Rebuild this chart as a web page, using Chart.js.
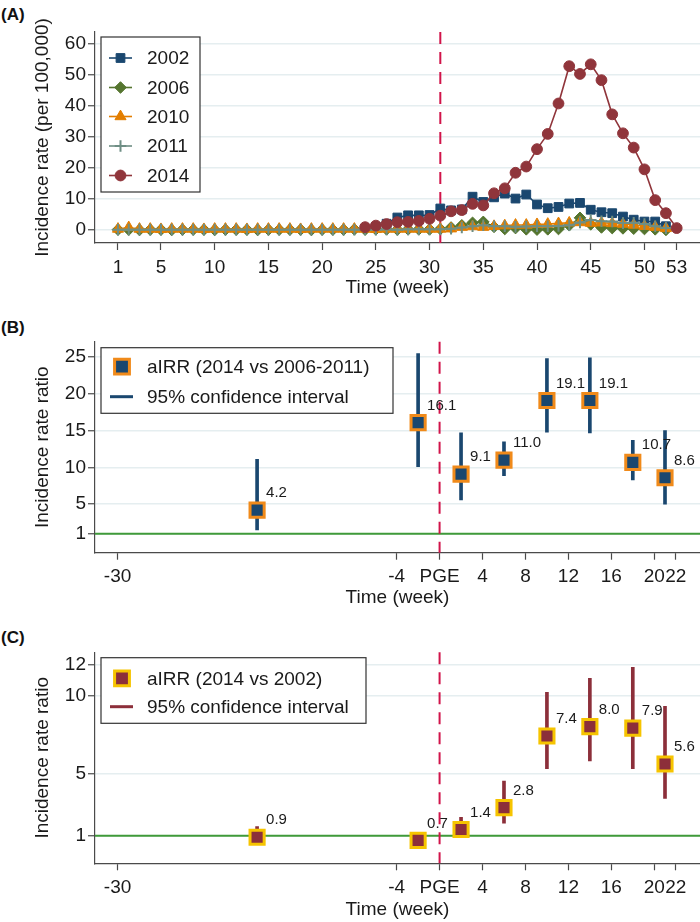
<!DOCTYPE html>
<html>
<head>
<meta charset="utf-8">
<script src="https://cdn.jsdelivr.net/npm/chart.js@4.4.1/dist/chart.umd.min.js"></script>
<style>
  html, body { margin: 0; padding: 0; background: #fff; }
  #wrap { position: relative; width: 700px; height: 922px; background: #fff; overflow: hidden; }
  canvas { position: absolute; left: 0; }
  .plab { position: absolute; left: 1px; font-family: 'Liberation Sans', Arial, sans-serif; font-weight: bold; font-size: 17px; color: #111; line-height: 1; }
</style>
</head>
<body>
<div id="wrap">
  <div class="plab" style="top:6px">(A)</div>
  <div class="plab" style="top:319px">(B)</div>
  <div class="plab" style="top:629px">(C)</div>
  <canvas id="cA" width="700" height="300" style="top:0px"></canvas>
  <canvas id="cB" width="700" height="310" style="top:300px"></canvas>
  <canvas id="cC" width="700" height="312" style="top:610px"></canvas>
</div>
<script>
// ---------------- DATA ----------------
// Panel A: weekly incidence rate (per 100,000)
const weeks = [1,2,3,4,5,6,7,8,9,10,11,12,13,14,15,16,17,18,19,20,21,22,23,24,25,26,27,28,29,30,31,32,33,34,35,36,37,38,39,40,41,42,43,44,45,46,47,48,49,50,51,52,53];
const ir2002 = [null,null,null,null,null,null,null,null,null,null,null,null,null,null,null,null,null,null,null,null,null,null,null,null,1.0,2.0,4.0,4.7,4.7,4.8,6.9,6.3,6.6,10.7,9.0,10.5,11.7,10.1,11.4,8.2,7.0,7.4,8.5,8.7,6.5,5.7,5.4,4.3,3.3,2.7,2.7,1.2,null];
const ir2006 = [0.1,0.1,0.0,0.1,0.1,0.0,0.1,0.1,0.1,0.0,0.1,0.1,0.1,0.0,0.1,0.1,0.1,0.1,0.0,0.1,0.1,0.1,0.2,0.1,0.2,0.2,0.1,0.2,0.2,0.2,0.3,0.8,1.5,2.3,2.6,1.0,0.3,0.6,0.2,0.1,0.2,0.3,1.5,3.9,1.8,0.8,0.6,0.5,0.4,0.3,0.2,0.0,null];
const ir2010 = [0.3,0.8,0.3,0.3,0.2,0.3,0.3,0.3,0.2,0.3,0.3,0.3,0.2,0.3,0.3,0.3,0.3,0.2,0.3,0.3,0.3,0.3,0.3,0.3,0.2,0.3,0.3,0.3,0.3,0.3,0.3,0.4,0.9,1.1,0.9,1.2,1.4,1.6,1.6,1.8,1.9,2.1,2.3,2.4,2.2,2.3,2.1,1.9,1.6,1.2,0.9,0.5,null];
const ir2011 = [0.1,0.1,0.1,0.1,0.1,0.1,0.1,0.1,0.1,0.1,0.1,0.1,0.1,0.1,0.1,0.1,0.1,0.1,0.1,0.1,0.1,0.1,0.1,0.2,0.1,0.2,0.1,0.2,0.2,0.2,0.2,0.4,0.8,1.2,1.5,1.2,1.2,1.0,1.1,1.2,1.2,1.3,1.5,2.4,3.2,2.8,2.7,2.2,2.3,1.9,1.2,0.6,null];
const ir2014 = [null,null,null,null,null,null,null,null,null,null,null,null,null,null,null,null,null,null,null,null,null,null,null,0.9,1.4,1.9,2.5,2.6,2.9,3.6,4.6,6.0,6.4,8.4,7.9,11.8,13.4,18.4,20.4,26.0,30.9,40.7,52.7,50.2,53.3,48.2,37.2,31.1,26.5,19.5,9.6,5.4,0.6];
const seriesYears = ['2002','2006','2010','2011','2014'];
const weekTicks = [1,5,10,15,20,25,30,35,40,45,50,53];
const rateTicks = [0,10,20,30,40,50,60];
const PGE_WEEK = 31;

// Panels B and C: time relative to PGE (weeks)
const relWeeks = [-17,-2,2,6,10,14,18,21];
const relTicks = [-30,-4,0,4,8,12,16,20,22];
const relTickLabels = ['-30','-4','PGE','4','8','12','16','20','22'];
const PGE_REL = 0;
const REF_RATIO = 1;

// Panel B: aIRR (2014 vs 2006-2011)
const irrB = [4.2,16.1,9.1,11.0,19.1,19.1,10.7,8.6];
const loB  = [1.5,10.1,5.6,8.9,14.8,14.7,8.3,5.0];
const hiB  = [11.1,25.5,14.7,13.5,24.8,24.9,13.7,15.0];
const ratioTicksB = [1,5,10,15,20,25];
const labelB = 'aIRR (2014 vs 2006-2011)';

// Panel C: aIRR (2014 vs 2002)
const irrC = [0.9,0.7,1.4,2.8,7.4,8.0,7.9,5.6];
const loC  = [0.6,0.5,0.87,1.8,5.3,5.8,5.3,3.4];
const hiC  = [1.58,1.2,2.18,4.5,10.2,11.1,11.8,9.3];
const ratioTicksC = [1,5,10,12];
const labelC = 'aIRR (2014 vs 2002)';
const ciLabel = '95% confidence interval';

// ---------------- STYLE ----------------
const FONT = "'Liberation Sans', Arial, Helvetica, sans-serif";
Chart.defaults.font.family = FONT;
Chart.defaults.color = '#1a1a1a';
const NAVY = '#1a476f', GREEN = '#55752f', ORANGE = '#e37e00', TEAL = '#6e8e84', MAROON = '#90353b';
const CRAN = '#d1144a', REFGREEN = '#3f9a3a', AX = '#4a4a4a', GRID = '#e5eef0';
const MK_ORANGE = '#f08a1a', MK_GOLD = '#f6c400', MK_MAROON = '#8c2f3a';

function pts(xs, ys) { return xs.map((x, i) => ({ x: x, y: ys[i] })); }

function drawMarker(ctx, style, r, x, y, bw) {
  if (Chart.helpers && Chart.helpers.drawPoint) {
    Chart.helpers.drawPoint(ctx, { pointStyle: style, radius: r, borderWidth: bw, rotation: 0 }, x, y);
    return;
  }
  ctx.beginPath();
  if (style === 'circle') ctx.arc(x, y, r, 0, Math.PI * 2);
  else if (style === 'rect') { const s = r * Math.SQRT1_2; ctx.rect(x - s, y - s, 2 * s, 2 * s); }
  else if (style === 'rectRot') { ctx.moveTo(x, y - r); ctx.lineTo(x + r, y); ctx.lineTo(x, y + r); ctx.lineTo(x - r, y); ctx.closePath(); }
  else if (style === 'triangle') { ctx.moveTo(x, y - r); ctx.lineTo(x + r * 0.866, y + r / 2); ctx.lineTo(x - r * 0.866, y + r / 2); ctx.closePath(); }
  else if (style === 'cross') { ctx.moveTo(x, y - r); ctx.lineTo(x, y + r); ctx.moveTo(x - r, y); ctx.lineTo(x + r, y); ctx.stroke(); return; }
  ctx.fill(); if (bw > 0) ctx.stroke();
}

// reference lines (vertical dashed PGE line, horizontal line at ratio 1)
const refLines = {
  id: 'refLines',
  beforeDatasetsDraw(chart, args, o) {
    const { ctx, chartArea: a, scales: { x, y } } = chart;
    ctx.save();
    if (o.hy !== undefined) {
      const py = y.getPixelForValue(o.hy);
      ctx.strokeStyle = REFGREEN; ctx.lineWidth = 2;
      ctx.beginPath(); ctx.moveTo(a.left, py); ctx.lineTo(a.right, py); ctx.stroke();
    }
    if (o.vx !== undefined) {
      const px = x.getPixelForValue(o.vx);
      ctx.strokeStyle = CRAN; ctx.lineWidth = 2; ctx.setLineDash([12, 8]);
      ctx.beginPath(); ctx.moveTo(px, a.top); ctx.lineTo(px, a.bottom); ctx.stroke();
    }
    ctx.restore();
  }
};

// legend box inside the plot
const boxLegend = {
  id: 'boxLegend',
  afterDraw(chart, args, o) {
    const ctx = chart.ctx;
    ctx.save();
    ctx.fillStyle = '#fff'; ctx.fillRect(o.x, o.y, o.w, o.h);
    ctx.strokeStyle = '#333'; ctx.lineWidth = 1.2; ctx.strokeRect(o.x, o.y, o.w, o.h);
    o.items.forEach(it => {
      const ds = chart.data.datasets[it.ds];
      if (it.line) {
        ctx.strokeStyle = it.line; ctx.lineWidth = it.lw;
        ctx.beginPath(); ctx.moveTo(o.lx0, it.y); ctx.lineTo(o.lx1, it.y); ctx.stroke();
      }
      if (it.style) {
        ctx.fillStyle = it.fill; ctx.strokeStyle = it.stroke; ctx.lineWidth = it.bw;
        drawMarker(ctx, it.style, it.r, o.mx, it.y, it.bw);
      }
      ctx.fillStyle = '#1a1a1a'; ctx.font = '19px ' + FONT; ctx.textAlign = 'left'; ctx.textBaseline = 'middle';
      ctx.fillText(it.text !== undefined ? it.text : ds.label, o.tx, it.y + 1);
    });
    ctx.restore();
  }
};

// value labels next to the estimate markers
const valueLabels = {
  id: 'valueLabels',
  afterDatasetsDraw(chart, args, o) {
    if (o.ds === undefined) return;
    const ctx = chart.ctx;
    const meta = chart.getDatasetMeta(o.ds);
    const data = chart.data.datasets[o.ds].data;
    ctx.save();
    ctx.fillStyle = '#1a1a1a'; ctx.font = '15px ' + FONT; ctx.textAlign = 'left'; ctx.textBaseline = 'middle';
    meta.data.forEach((el, i) => { ctx.fillText(data[i].y.toFixed(1), el.x + 9, el.y - 17); });
    ctx.restore();
  }
};

const tickFont = { size: 19, family: FONT };
function xScale(min, max, ticks, labels, h) {
  return {
    type: 'linear', min: min, max: max, offset: false,
    afterBuildTicks: s => { s.ticks = ticks.map(v => ({ value: v })); },
    afterFit: s => { s.height = h; s.paddingLeft = 0; s.paddingRight = 0; },
    grid: { offset: false, drawOnChartArea: false, drawTicks: true, tickLength: 7, tickColor: AX, tickWidth: 1.2 },
    border: { color: AX, width: 1.2 },
    ticks: { font: tickFont, color: '#1a1a1a', padding: 6, autoSkip: false, maxRotation: 0,
             callback: (v) => { const k = ticks.indexOf(v); return labels ? labels[k] : String(v); } },
    title: { display: true, text: 'Time (week)', font: tickFont, color: '#1a1a1a', padding: { top: 0, bottom: 1 } }
  };
}
function yScale(min, max, ticks, title) {
  return {
    type: 'linear', min: min, max: max,
    afterBuildTicks: s => { s.ticks = ticks.map(v => ({ value: v })); },
    afterFit: s => { s.width = 95; s.paddingTop = 0; s.paddingBottom = 0; },
    grid: { color: GRID, lineWidth: 1.5, drawTicks: true, tickLength: 7, tickColor: AX, tickWidth: 1.2 },
    border: { color: AX, width: 1.2 },
    ticks: { font: tickFont, color: '#1a1a1a', padding: 2, callback: v => String(v) },
    title: { display: true, text: title, font: tickFont, color: '#1a1a1a', padding: { top: 31.6, bottom: 0 } }
  };
}
const baseOpts = { responsive: false, animation: false, devicePixelRatio: 1, events: [] };

// ---------------- PANEL A ----------------
// z: stacking (0 = drawn on top); series drawn in legend order, last on top
const lineSets = [
  { d: ir2002, c: NAVY, s: 'rect', r: 6.2, bw: 1, z: 4 },
  { d: ir2006, c: GREEN, s: 'rectRot', r: 5.8, bw: 1, z: 3 },
  { d: ir2010, c: ORANGE, s: 'triangle', r: 6.4, bw: 1, z: 2 },
  { d: ir2011, c: TEAL, s: 'cross', r: 5.8, bw: 2, z: 1 },
  { d: ir2014, c: MAROON, s: 'circle', r: 5.4, bw: 1, z: 0 }
];
new Chart(document.getElementById('cA'), {
  type: 'line',
  data: {
    datasets: lineSets.map((o, i) => ({
      label: seriesYears[i], data: pts(weeks, o.d),
      borderColor: o.c, backgroundColor: o.c, borderWidth: 1.6,
      pointStyle: o.s, pointRadius: o.r, pointBorderWidth: o.bw,
      pointBackgroundColor: o.c, pointBorderColor: o.c,
      order: o.z, tension: 0
    }))
  },
  options: Object.assign({}, baseOpts, {
    layout: { autoPadding: false, padding: { left: 0, right: 0, top: 32, bottom: 0 } },
    plugins: {
      legend: { display: false }, tooltip: { enabled: false },
      refLines: { vx: PGE_WEEK },
      boxLegend: {
        x: 101, y: 37, w: 99, h: 155, lx0: 109, lx1: 132, mx: 120.5, tx: 147,
        items: lineSets.map((o, i) => ({ ds: i, y: [58, 87.5, 116.5, 146, 175.5][i], line: o.c, lw: 1.6,
          style: o.s, r: o.r, fill: o.c, stroke: o.c, bw: o.bw }))
      }
    },
    scales: {
      x: xScale(-1.14, 55.17, weekTicks, null, 57),
      y: yScale(-4.2, 63.7, rateTicks, 'Incidence rate (per 100,000)')
    }
  }),
  plugins: [refLines, boxLegend]
});

// ---------------- PANELS B & C ----------------
function irrChart(id, irr, lo, hi, yMin, yMax, yTicks, label, barColor, mkFill, mkBorder, top, xh, legW, legItemsY) {
  new Chart(document.getElementById(id), {
    type: 'bar',
    data: {
      datasets: [
        { type: 'line', label: label, data: pts(relWeeks, irr), showLine: false,
          pointStyle: 'rect', pointRadius: 10, pointBorderWidth: 3,
          pointBackgroundColor: mkFill, pointBorderColor: mkBorder, order: 0 },
        { type: 'bar', label: ciLabel, data: relWeeks.map((w, i) => ({ x: w, y: [lo[i], hi[i]] })),
          backgroundColor: barColor, borderWidth: 0, barThickness: 3, order: 1 }
      ]
    },
    options: Object.assign({}, baseOpts, {
      layout: { autoPadding: false, padding: { left: 0, right: 0, top: top, bottom: 0 } },
      plugins: {
        legend: { display: false }, tooltip: { enabled: false },
        refLines: { vx: PGE_REL, hy: REF_RATIO },
        valueLabels: { ds: 0 },
        boxLegend: {
          x: 101, y: 47.7, w: legW, h: 65.6, lx0: 110, lx1: 133, mx: 122, tx: 147,
          items: [
            { ds: 0, y: legItemsY[0], style: 'rect', r: 10.5, fill: mkFill, stroke: mkBorder, bw: 3 },
            { ds: 1, y: legItemsY[1], line: barColor, lw: 3 }
          ]
        }
      },
      scales: {
        x: xScale(-32.1, 24.26, relTicks, relTickLabels, xh),
        y: yScale(yMin, yMax, yTicks, 'Incidence rate ratio')
      }
    }),
    plugins: [refLines, valueLabels, boxLegend]
  });
}
irrChart('cB', irrB, loB, hiB, -1.59, 27.1, ratioTicksB, labelB, NAVY, NAVY, MK_ORANGE, 41.7, 57.3, 292, [66.7, 96.7]);
irrChart('cC', irrC, loC, hiC, -0.77, 12.77, ratioTicksC, labelC, MK_MAROON, MK_MAROON, MK_GOLD, 42.3, 58.7, 265, [68.3, 96.7]);
</script>
</body>
</html>
